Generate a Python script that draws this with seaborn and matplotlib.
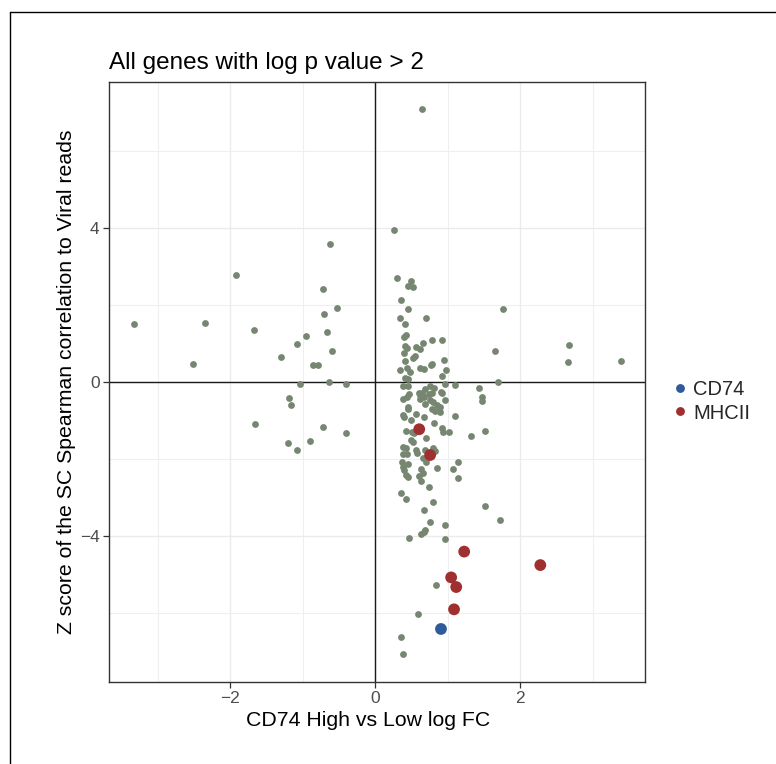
import matplotlib
matplotlib.use("Agg")
import matplotlib.pyplot as plt
from matplotlib.lines import Line2D
from matplotlib.ticker import MultipleLocator
import seaborn as sns
import pandas as pd

# ---- data ----
other_fc = [-0.617, -1.92, -0.72, -0.52, -0.71, -3.32, -2.34, -1.67, -0.66, -0.95, -1.07, -0.60, -1.30, -2.51, -0.86, -0.78,
            -1.03, -0.63, -0.40, -1.18, -1.16, -1.66, -0.72, -0.40, -1.20, -0.89, -1.07,
            0.65, 0.26, 0.31, 0.49, 0.46, 0.53, 0.36, 0.45, 1.77, 0.34, 0.71, 0.41, 2.68, 1.66, 2.66, 3.39,
            0.40, 0.43, 0.78, 0.93, 0.41, 0.44, 0.56, 0.66, 0.62, 0.40, 0.55, 0.53, 0.41, 0.95, 0.78, 0.77,
            0.62, 0.67, 0.34, 0.44, 0.48, 0.98, 0.92, 0.41, 0.46, 1.70,
            0.38, 0.45, 0.76, 0.81, 0.97, 1.11, 1.43, 0.69,
            1.47, 1.48, 0.47, 0.44, 0.61, 0.62, 0.65, 0.75, 0.78, 0.91, 0.93, 0.39, 0.97, 0.62, 0.67, 0.76,
            0.80, 0.46, 0.45, 0.85, 0.89, 0.69, 0.78, 0.83, 0.38, 0.40, 0.57, 0.50, 0.68, 0.89, 1.11, 0.81,
            0.43, 0.51, 0.54, 0.92, 0.94, 1.02, 1.32, 1.52, 0.70, 0.49, 0.53, 0.39, 0.43, 0.57, 0.58, 0.69,
            0.80, 0.83, 0.39, 0.44, 0.66, 0.71, 0.37, 0.46, 1.15, 0.86, 1.08, 0.38, 0.40, 0.64, 0.66, 0.43,
            0.45, 0.60, 0.63, 1.14, 0.75, 0.36, 0.43, 0.80, 1.52, 0.68, 1.73, 0.76, 0.96, 0.69, 0.67, 0.63,
            0.47, 0.97, 0.84, 0.59, 0.36, 0.39]
other_z = [3.60, 2.79, 2.43, 1.92, 1.77, 1.52, 1.53, 1.37, 1.31, 1.19, 1.00, 0.81, 0.65, 0.48, 0.45, 0.46,
           -0.05, 0.01, -0.04, -0.40, -0.59, -1.09, -1.17, -1.31, -1.59, -1.52, -1.77,
           7.11, 3.96, 2.71, 2.64, 2.49, 2.47, 2.13, 1.90, 1.91, 1.66, 1.67, 1.51, 0.97, 0.80, 0.52, 0.55,
           1.18, 1.23, 1.11, 1.11, 0.95, 0.90, 0.91, 1.02, 0.86, 0.75, 0.68, 0.62, 0.55, 0.57, 0.48, 0.45,
           0.38, 0.35, 0.33, 0.36, 0.27, 0.31, 0.16, 0.10, 0.09, 0.00,
           -0.09, -0.10, -0.09, -0.14, -0.04, -0.07, -0.16, -0.18,
           -0.37, -0.48, -0.31, -0.37, -0.27, -0.33, -0.29, -0.31, -0.29, -0.24, -0.29, -0.44, -0.47, -0.44, -0.37, -0.46,
           -0.52, -0.63, -0.70, -0.59, -0.63, -0.56, -0.70, -0.74, -0.85, -0.89, -0.82, -0.98, -0.89, -0.78, -0.87, -1.06,
           -1.26, -1.30, -1.32, -1.19, -1.28, -1.30, -1.39, -1.26, -1.46, -1.50, -1.54, -1.67, -1.70, -1.76, -1.84, -1.76,
           -1.71, -1.78, -1.87, -1.87, -1.97, -2.06, -2.06, -2.13, -2.06, -2.22, -2.25, -2.19, -2.28, -2.26, -2.36, -2.41,
           -2.47, -2.43, -2.56, -2.48, -2.71, -2.88, -3.04, -3.12, -3.22, -3.33, -3.58, -3.64, -3.71, -3.84, -3.90, -3.94,
           -4.04, -4.07, -5.27, -6.02, -6.62, -7.07]

mhc_fc = [0.61, 0.76, 1.23, 2.28, 1.05, 1.12, 1.09]
mhc_z = [-1.22, -1.89, -4.40, -4.75, -5.07, -5.32, -5.90]

cd74_fc = [0.91]
cd74_z = [-6.41]

group_labels = ["CD74", "MHCII"]
group_colors = ["#2F5B9A", "#A0302F"]

title_text = "All genes with log p value > 2"
x_label = "CD74 High vs Low log FC"
y_label = "Z score of the SC Spearman correlation to Viral reads"

# ---- build tables ----
df_other = pd.DataFrame({"fc": other_fc, "z": other_z})
df_hi = pd.DataFrame({
    "fc": cd74_fc + mhc_fc,
    "z": cd74_z + mhc_z,
    "group": [group_labels[0]] * len(cd74_fc) + [group_labels[1]] * len(mhc_fc),
})

sns.set_theme(style="white")
plt.rcParams["font.family"] = ["Liberation Sans", "DejaVu Sans"]

W, H = 776, 764
fig = plt.figure(figsize=(W / 100, H / 100), dpi=100)
ax = fig.add_axes([109.3 / W, 1 - 681.7 / H, (645 - 109.3) / W, (681.7 - 81.7) / H])

ax.set_xlim(-3.665, 3.724)
ax.set_ylim(-7.78, 7.81)
ax.xaxis.set_major_locator(MultipleLocator(2))
ax.xaxis.set_minor_locator(MultipleLocator(1))
ax.yaxis.set_major_locator(MultipleLocator(4))
ax.yaxis.set_minor_locator(MultipleLocator(2))
ax.grid(which="major", color="#EBEBEB", lw=1.0, zorder=0)
ax.grid(which="minor", color="#EFEFEF", lw=0.8, zorder=0)
ax.set_axisbelow(True)

ax.axhline(0, color="#1a1a1a", lw=1.0, zorder=1)
ax.axvline(0, color="#1a1a1a", lw=1.0, zorder=1)

sns.scatterplot(data=df_other, x="fc", y="z", ax=ax, color="#768671",
                s=24, linewidth=0, legend=False, zorder=2)
sns.scatterplot(data=df_hi, x="fc", y="z", hue="group", hue_order=group_labels,
                palette=group_colors, ax=ax, s=72, linewidth=0, zorder=3)

for sp in ax.spines.values():
    sp.set_color("#333333")
    sp.set_linewidth(1.0)

ax.tick_params(which="major", length=4, width=0.9, color="#333333",
               labelsize=12.5, labelcolor="#4D4D4D", pad=3, bottom=True, left=True)
ax.tick_params(which="minor", length=0)
ax.set_xticklabels([f"{int(t)}".replace("-", "\u2212") for t in ax.get_xticks()])
ax.set_yticklabels([f"{int(t)}".replace("-", "\u2212") for t in ax.get_yticks()])

ax.set_xlabel(x_label, fontsize=15.3, color="black", labelpad=3)
ax.xaxis.label.set_x(0.484)
ax.set_ylabel(y_label, fontsize=15.3, color="black", labelpad=3)
ax.set_title(title_text, loc="left", fontsize=17.5, color="black", pad=9)

handles, labels = ax.get_legend_handles_labels()
leg = ax.legend(handles, labels, loc="center left", bbox_to_anchor=(1.036, 0.467),
                frameon=False, fontsize=14.5, markerscale=0.75, handlelength=0.8,
                handletextpad=0.25, labelspacing=0.2, borderaxespad=0)

# outer frame lines (left and top)
fig.add_artist(Line2D([10 / W, 10 / W], [0, 1 - 12 / H], transform=fig.transFigure, color="black", lw=1.0))
fig.add_artist(Line2D([10 / W, 1], [1 - 12 / H, 1 - 12 / H], transform=fig.transFigure, color="black", lw=1.0))

fig.savefig("out.png", dpi=100)
